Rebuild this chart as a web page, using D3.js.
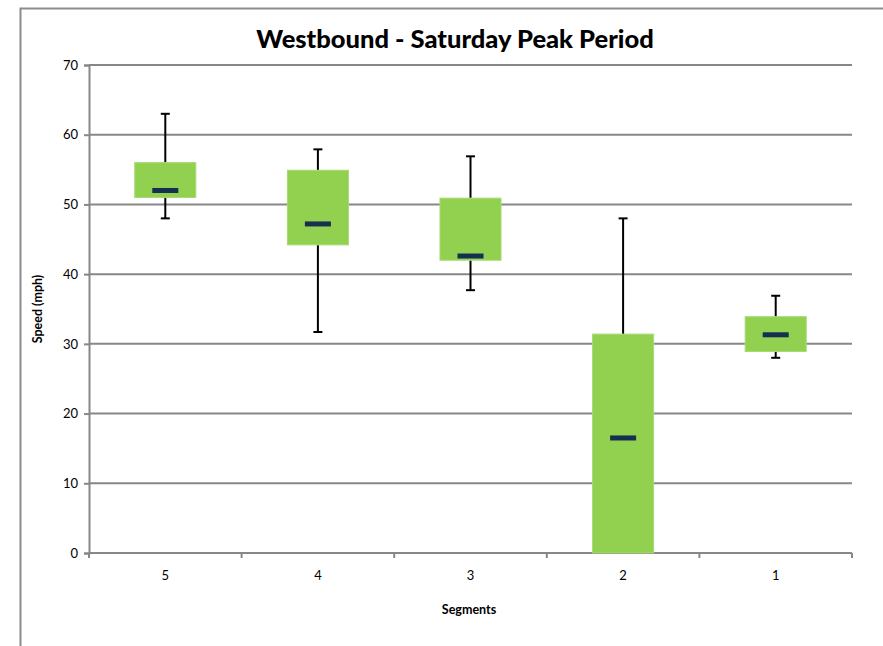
<!DOCTYPE html>
<html><head><meta charset="utf-8">
<script src="https://cdn.jsdelivr.net/npm/d3@7"></script>
<style>body{margin:0;background:#fff;} svg{display:block;}</style>
</head><body>
<script>
const segments = ["5", "4", "3", "2", "1"];
const whiskerLow = [48, 31.7, 37.7, 0, 28];
const q1 = [51, 44.2, 42, 0, 28.9];
const median = [52, 47.2, 42.6, 16.5, 31.3];
const q3 = [56, 54.9, 50.9, 31.4, 33.9];
const whiskerHigh = [63, 57.9, 56.9, 48, 36.9];
const yTicks = [0, 10, 20, 30, 40, 50, 60, 70];

const W = 883, H = 646;
const m = {left: 89, right: 31, top: 65, bottom: 93};
const svg = d3.select("body").append("svg").attr("width", W).attr("height", H);
const font = "Lato, 'Open Sans', sans-serif";

// outer frame
svg.append("path").attr("d", `M20.5,${H} V8.5 H${W}`).attr("fill", "none").attr("stroke", "#8c8c8c").attr("stroke-width", 2);

const x = d3.scaleBand().domain(segments).range([m.left, W - m.right]).padding(0);
const y = d3.scaleLinear().domain([0, 70]).range([H - m.bottom, m.top]);

// grid
svg.append("g").selectAll("line").data(yTicks).join("line")
  .attr("x1", m.left).attr("x2", W - m.right)
  .attr("y1", d => y(d)).attr("y2", d => y(d))
  .attr("stroke", "#878787").attr("stroke-width", 2);

// y axis
const ya = svg.append("g").attr("transform", `translate(${m.left},0)`)
  .call(d3.axisLeft(y).tickValues(yTicks).tickSize(5).tickPadding(6));
ya.select(".domain").attr("stroke", "#878787").attr("stroke-width", 2);
ya.selectAll(".tick line").attr("stroke", "#878787").attr("stroke-width", 2);
ya.selectAll("text").attr("font-family", font).attr("font-size", 13).attr("fill", "#000");

// x axis
const xa = svg.append("g").attr("transform", `translate(0,${y(0)})`)
  .call(d3.axisBottom(x).tickSize(0).tickPadding(18));
xa.select(".domain").remove();
xa.selectAll("text").attr("font-family", font).attr("font-size", 13).attr("fill", "#000");
const bounds = segments.map(s => x(s)).concat([x(segments[segments.length-1]) + x.bandwidth()]);
xa.selectAll(".bt").data(bounds).join("line").attr("class", "bt")
  .attr("x1", d => d).attr("x2", d => d).attr("y1", 0).attr("y2", 5)
  .attr("stroke", "#878787").attr("stroke-width", 2);

const bw = x.bandwidth() * 0.4;
const cx = s => x(s) + x.bandwidth() / 2;
const g = svg.append("g");
segments.forEach((s, i) => {
  g.append("line").attr("x1", cx(s)).attr("x2", cx(s)).attr("y1", y(whiskerHigh[i])).attr("y2", y(q3[i]))
    .attr("stroke", "#000").attr("stroke-width", 2);
  g.append("line").attr("x1", cx(s)).attr("x2", cx(s)).attr("y1", y(whiskerLow[i])).attr("y2", y(q1[i]))
    .attr("stroke", "#000").attr("stroke-width", 2);
  [whiskerHigh[i], whiskerLow[i]].forEach(v => {
    if (v > 0) g.append("line").attr("x1", cx(s) - 4.5).attr("x2", cx(s) + 4.5).attr("y1", y(v)).attr("y2", y(v))
      .attr("stroke", "#000").attr("stroke-width", 2);
  });
  g.append("rect").attr("x", cx(s) - bw / 2).attr("width", bw)
    .attr("y", y(q3[i])).attr("height", y(q1[i]) - y(q3[i]))
    .attr("fill", "#92D050").attr("stroke", "#a6da74").attr("stroke-width", 1);
  g.append("rect").attr("x", cx(s) - 13).attr("width", 26)
    .attr("y", y(median[i]) - 2.5).attr("height", 5).attr("fill", "#142f4f");
});

// titles
svg.append("text").attr("x", 455).attr("y", 48).attr("text-anchor", "middle")
  .attr("font-family", font).attr("font-weight", "900").attr("font-size", 25.5).text("Westbound  - Saturday Peak Period");
svg.append("text").attr("x", 469).attr("y", 614).attr("text-anchor", "middle")
  .attr("font-family", font).attr("font-weight", "bold").attr("font-size", 12.5).text("Segments");
svg.append("text").attr("transform", `translate(42,${y(35)}) rotate(-90)`).attr("text-anchor", "middle")
  .attr("font-family", font).attr("font-weight", "bold").attr("font-size", 12.5).text("Speed (mph)");
</script>
</body></html>
